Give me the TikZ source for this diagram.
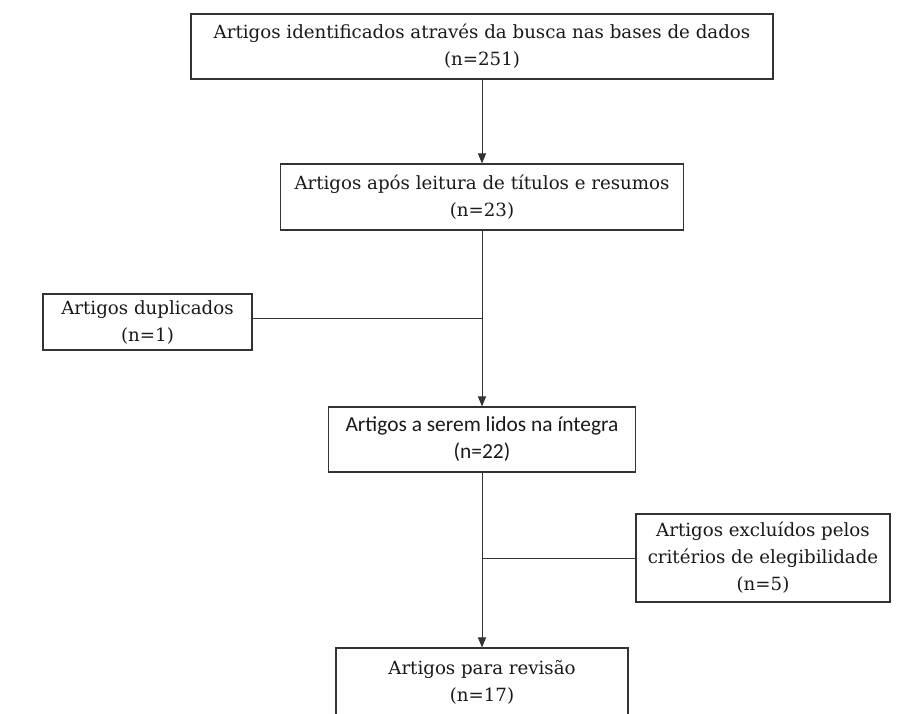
\documentclass[tikz,border=0pt]{standalone}
\usepackage{fontspec}
\setmainfont{DejaVu Serif}
\newfontfamily\stagesans{Carlito}
\usepackage{xcolor}
\definecolor{box-line}{HTML}{333333}
\usetikzlibrary{arrows.meta}

\begin{document}
\begin{tikzpicture}[x=1pt, y=-1pt, every node/.style={font=\fontsize{18.2}{27}\selectfont, text=black!90},
    stage/.style={draw=box-line, line width=1.1pt, align=center, inner sep=0pt},
    link/.style={line width=1pt, color=box-line},
    >={Triangle[width=8pt, length=10pt]}]
      \useasboundingbox (0, 0) rectangle (917, 713);
      \node[stage, minimum width=582pt, minimum height=65pt] (s0) at (482, 46.5) {Artigos identificados através da busca nas bases de dados\\(n=251)};
      \node[stage, minimum width=403pt, minimum height=66pt] (s1) at (482, 197) {Artigos após leitura de títulos e resumos\\(n=23)};
      \node[stage, minimum width=209pt, minimum height=56pt] (dup) at (147.5, 322) {Artigos duplicados\\(n=1)};
      \node[stage, minimum width=307pt, minimum height=65pt, font=\stagesans\fontsize{21.4}{27}\selectfont] (s2) at (482, 439.5) {Artigos a serem lidos na íntegra\\(n=22)};
      \node[stage, minimum width=254pt, minimum height=88pt] (excl) at (763, 558) {Artigos excluídos pelos\\critérios de elegibilidade\\(n=5)};
      \node[stage, minimum width=292pt, minimum height=68pt] (s3) at (482, 682) {Artigos para revisão\\(n=17)};
      \draw[->, link] (s0.south) -- (s1.north);
      \draw[->, link] (s1.south) -- (s2.north);
      \draw[->, link] (s2.south) -- (s3.north);
      \draw[link] ([yshift=4pt]dup.east) -- ([yshift=4pt]dup.east -| s1.south);
      \draw[link] (excl.west) -- (excl.west -| s2.south);
    \end{tikzpicture}
\end{document}
